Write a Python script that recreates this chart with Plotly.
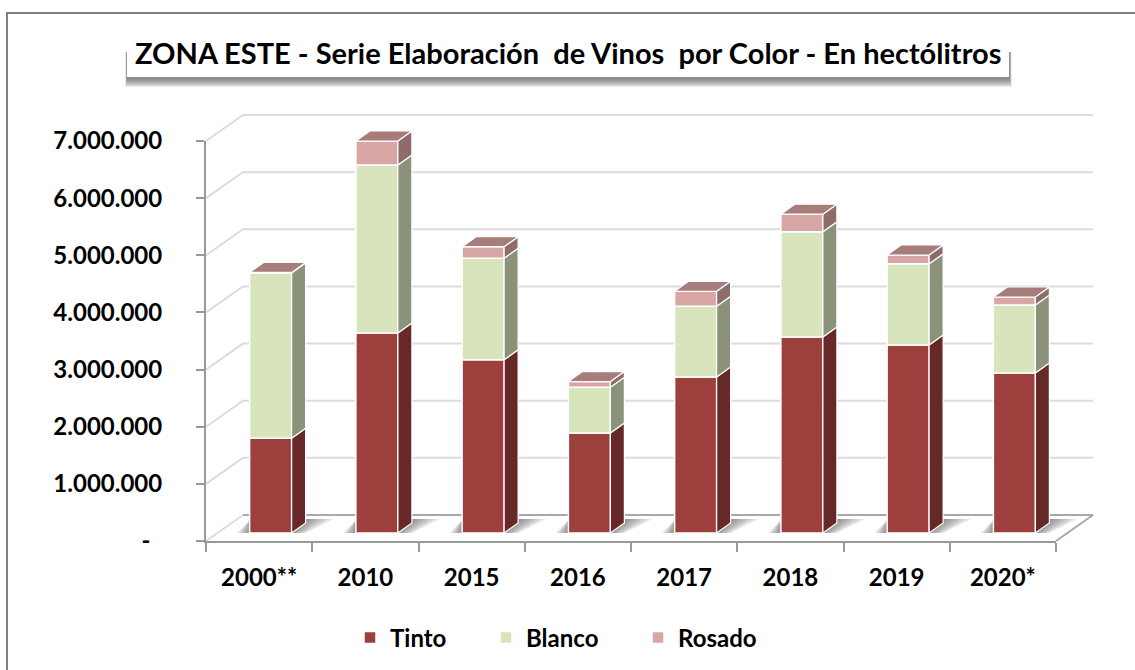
import plotly.graph_objects as go

# ---------- data (hectolitres) ----------
categories = ["2000**", "2010", "2015", "2016", "2017", "2018", "2019", "2020*"]
tinto = [1660000, 3500000, 3030000, 1750000, 2730000, 3430000, 3290000, 2800000]
blanco = [2890000, 2940000, 1780000, 800000, 1240000, 1840000, 1420000, 1190000]
rosado = [10000, 420000, 200000, 100000, 260000, 310000, 155000, 140000]
y_ticks = [0, 1000000, 2000000, 3000000, 4000000, 5000000, 6000000, 7000000]
y_labels = ["-\u00a0\u00a0", "1.000.000", "2.000.000", "3.000.000", "4.000.000",
            "5.000.000", "6.000.000", "7.000.000"]
TITLE = "ZONA ESTE - Serie Elaboración  de Vinos  por Color - En hectólitros"

# ---------- frame of the drawing ----------
W, H = 1135, 670
LEFT, RIGHT, BOTTOM, TOP = 206, 1056, 541, 141
PX = len(categories) / (RIGHT - LEFT)      # category units per pixel
PY = 7000000 / (BOTTOM - TOP)              # value units per pixel
FONT = "Lato"
FRONT = {"Tinto": "#9c3f3d", "Blanco": "#d7e4bc", "Rosado": "#d8a7a5"}
SIDE = {"Tinto": "#672928", "Blanco": "#8a927a", "Rosado": "#8f6c6c"}
TOPFACE = "#a67d7b"
LEGEND_X = {"Tinto": ("legend", 350), "Blanco": ("legend2", 486), "Rosado": ("legend3", 638)}

# wide hidden drawing area so the 3-D faces are not clipped by the axes
PAD_L, PAD_R, PAD_B, PAD_T = 20, 70, 20, 60
x0, x1 = 0.5, 0.5 + len(categories)
wide_x = [x0 - PAD_L * PX, x1 + PAD_R * PX]
wide_y = [-PAD_B * PY, 7000000 + PAD_T * PY]
wide_dx = [(LEFT - PAD_L) / W, (RIGHT + PAD_R) / W]
wide_dy = [1 - (BOTTOM + PAD_B) / H, 1 - (TOP - PAD_T) / H]

fig = go.Figure()


def poly(xs, ys, fill, line=None, width=0, axes=("x2", "y2")):
    fig.add_trace(go.Scatter(
        x=xs, y=ys, mode="lines", fill="toself", fillcolor=fill,
        line=dict(color=line or "rgba(0,0,0,0)", width=width),
        hoverinfo="skip", showlegend=False, xaxis=axes[0], yaxis=axes[1]))


def wall_line(xs, ys, color):
    fig.add_trace(go.Scatter(
        x=xs, y=ys, mode="lines", line=dict(color=color, width=2),
        hoverinfo="skip", showlegend=False, xaxis="x", yaxis="y"))


# ---------- back walls, floor (lowest layer) ----------
GX, GY = 37 * PX, 26 * PY
for v in y_ticks[1:]:
    wall_line([x0, x0 + GX, x1 + GX], [v, v + GY, v + GY], "#dcdcdc")
wall_line([x0, x0 + GX], [0, GY], "#dcdcdc")
wall_line([x0 + GX, x1 + GX, x1], [GY, GY, 0], "#a8a8a8")

# ---------- bar geometry ----------
OFFX, OFFY = 11.5 * PX, 8 * PY
BW = 42 * PX
DX, DY = 14 * PX, 10 * PY
xs = [i + 1 + OFFX for i in range(len(categories))]

# ---------- floor shadows ----------
for w in (28, 23, 18, 13, 8, 4):
    for xc in xs:
        L, R = xc - BW / 2, xc + BW / 2
        poly([R, R + w * 0.5 * PX, R + DX + w * PX, R + DX, R],
             [OFFY, OFFY, OFFY + 14 * PY, OFFY + 14 * PY, OFFY],
             "rgba(70,70,70,0.13)", axes=("x", "y"))
        poly([L - w * 0.45 * PX, L, L],
             [OFFY, OFFY, OFFY + 13 * PY],
             "rgba(70,70,70,0.13)", axes=("x", "y"))

# ---------- front faces (real stacked bars) ----------
bases = [OFFY] * len(categories)
for name, vals in (("Tinto", tinto), ("Blanco", blanco), ("Rosado", rosado)):
    fig.add_trace(go.Bar(
        x=xs, y=vals, base=bases, width=BW, name=name,
        marker=dict(color=FRONT[name], line=dict(color="white", width=1.5)),
        xaxis="x2", yaxis="y2", hoverinfo="skip", legend=LEGEND_X[name][0]))
    for xc, b, v in zip(xs, bases, vals):
        R = xc + BW / 2
        poly([R, R + DX, R + DX, R, R], [b, b + DY, b + v + DY, b + v, b],
             SIDE[name], "white", 1.2)
    bases = [b + v for b, v in zip(bases, vals)]

# ---------- top faces ----------
for xc, b in zip(xs, bases):
    L, R = xc - BW / 2, xc + BW / 2
    poly([L, L + DX, R + DX, R, L], [b, b + DY, b + DY, b, b], TOPFACE, "white", 1.2)

# ---------- trace that carries the visible axes ----------
fig.add_trace(go.Scatter(x=[1], y=[0], mode="markers", marker=dict(opacity=0, size=1),
                         hoverinfo="skip", showlegend=False, xaxis="x3", yaxis="y3"))

# ---------- outer frame, title box and its shadow ----------
shapes = [dict(type="rect", xref="paper", yref="paper", x0=7 / W, x1=1.01, y0=-0.01, y1=1 - 13 / H,
               line=dict(color="#7f7f7f", width=2), fillcolor="rgba(0,0,0,0)", layer="below")]
for i in range(9):
    shapes.append(dict(type="rect", xref="paper", yref="paper",
                       x0=(125.5 + i * 0.15) / W, x1=(1011.5 - i * 0.25) / W,
                       y0=1 - (87 - i) / H, y1=1 - 52 / H,
                       line=dict(width=0), fillcolor="rgba(90,90,90,0.12)", layer="below"))
shapes.append(dict(type="rect", xref="paper", yref="paper",
                   x0=127 / W, x1=1009 / W, y0=1 - 77 / H, y1=1 - 30 / H,
                   line=dict(width=0), fillcolor="white", layer="below"))

axis_color = "#999999"
tick_font = dict(family=FONT, size=24, color="#000000", weight="bold")
hidden = dict(visible=False, fixedrange=True)
legend_common = dict(orientation="h", y=1 - 638 / H, xanchor="left", yanchor="middle",
                     font=dict(family=FONT, size=24, color="#000000", weight="bold"),
                     itemwidth=30, bgcolor="rgba(0,0,0,0)")
fig.update_layout(
    width=W, height=H, autosize=False, margin=dict(l=0, r=0, t=0, b=0, autoexpand=False),
    paper_bgcolor="white", plot_bgcolor="rgba(0,0,0,0)",
    barmode="overlay", shapes=shapes,
    font=dict(family=FONT, color="#000000"),
    xaxis=dict(domain=wide_dx, range=wide_x, anchor="y", **hidden),
    yaxis=dict(domain=wide_dy, range=wide_y, anchor="x", **hidden),
    xaxis2=dict(range=wide_x, overlaying="x", anchor="y2", **hidden),
    yaxis2=dict(range=wide_y, overlaying="y", anchor="x2", **hidden),
    xaxis3=dict(domain=[LEFT / W, RIGHT / W], range=[x0, x1], anchor="y3",
                tickmode="array", tickvals=list(range(1, len(categories) + 1)), ticktext=categories,
                ticks="", ticklabelstandoff=14, showgrid=False, zeroline=False,
                showline=True, linecolor=axis_color, linewidth=2, tickfont=tick_font,
                minor=dict(tickmode="array",
                           tickvals=[i + 0.5 for i in range(len(categories) + 1)],
                           ticks="outside", ticklen=9, tickwidth=2, tickcolor=axis_color, showgrid=False)),
    yaxis3=dict(domain=[1 - BOTTOM / H, 1 - TOP / H], range=[0, 7000000], anchor="x3",
                tickmode="array", tickvals=y_ticks, ticktext=y_labels,
                ticks="outside", ticklen=8, tickwidth=2, tickcolor=axis_color,
                ticklabelstandoff=29, showgrid=False, zeroline=False,
                showline=True, linecolor=axis_color, linewidth=2, tickfont=tick_font),
    legend=dict(x=LEGEND_X["Tinto"][1] / W, **legend_common),
    legend2=dict(x=LEGEND_X["Blanco"][1] / W, **legend_common),
    legend3=dict(x=LEGEND_X["Rosado"][1] / W, **legend_common),
    annotations=[dict(text="<b>" + TITLE + "</b>", xref="paper", yref="paper",
                      x=568 / W, y=1 - 53 / H, xanchor="center", yanchor="middle",
                      showarrow=False, font=dict(family=FONT, size=29, color="#000000"))],
)

fig.write_html("out.html", post_script="document.body.style.margin='0';",
               config=dict(displayModeBar=False))
